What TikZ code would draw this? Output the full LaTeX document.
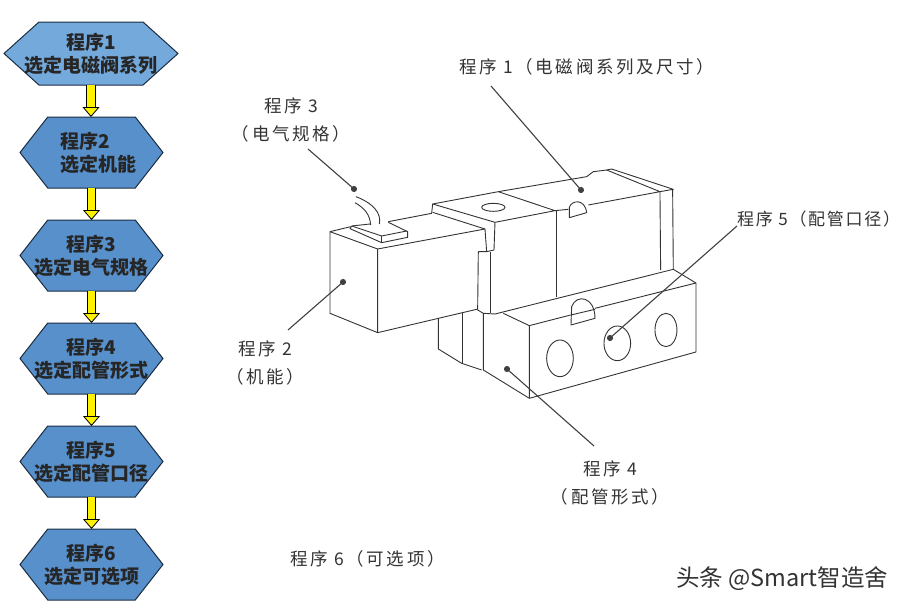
\documentclass[tikz,border=0pt]{standalone}
\usepackage{fontspec}
\setmainfont{Noto Sans CJK SC}
\newfontfamily\notefont[LetterSpace=15]{Noto Sans CJK SC}
\newfontfamily\notetight[LetterSpace=10]{Noto Sans CJK SC}
\usetikzlibrary{shapes.symbols, arrows.meta, positioning}
\definecolor{hexblue}{HTML}{5790CB}
\definecolor{hexlight}{HTML}{74A9DC}
\definecolor{hexline}{HTML}{1C2C40}
\tikzset{
  hexnode/.style = {signal, signal to=west and east, signal pointer angle=104, draw=hexline, line width=1pt, fill=hexblue, inner sep=0pt, outer sep=0pt, minimum width=143pt, minimum height=71pt},
  flowtext/.style = {align=center, inner sep=0pt, font=\fontsize{19}{23}\selectfont\bfseries, text=black!85},
  flowline/.style = {draw=black, line width=0.8pt, double=yellow, double distance=7.5pt, -{Triangle[fill=yellow, color=black, line width=0.8pt, length=10pt, width=17pt]}},
  note/.style = {align=center, inner sep=0pt, text=black!80, font=\fontsize{17.5}{28}\selectfont\notefont},
  leader/.style = {draw=black!75, line width=1.1pt, shorten >=-3pt, -{Circle[length=6pt]}},
  part/.style = {draw=black!80, line width=0.9pt, line join=round}
}
\begin{document}
\begin{tikzpicture}[x=1pt, y=-1pt, node distance=32pt]
\useasboundingbox (0,0) rectangle (907,608);

% Flow chain
\node[hexnode, signal pointer angle=84, fill=hexlight, minimum width=174pt, minimum height=63pt, label={[flowtext]center:程序1\\选定电磁阀系列}] (step1) at (91,53.5) {};
\node[hexnode, below=of step1, xshift=0.5pt, label={[flowtext, align=left, xshift=7pt]center:程序2\\选定机能}] (step2) {};
\node[hexnode, below=of step2, label={[flowtext]center:程序3\\选定电气规格}] (step3) {};
\node[hexnode, below=of step3, label={[flowtext]center:程序4\\选定配管形式}] (step4) {};
\node[hexnode, below=of step4, label={[flowtext]center:程序5\\选定配管口径}] (step5) {};
\node[hexnode, below=of step5, label={[flowtext]center:程序6\\选定可选项}] (step6) {};

\foreach \a/\b in {1/2,2/3,3/4,4/5,5/6}
  \draw[flowline] (step\a.south) -- (step\a.south |- step\b.north);

% Notes
\node[note, anchor=west] (note1) at (459,67) {程序 1（电磁阀系列及尺寸）};
\node[note] (note3) at (291,120) {程序 3\\（电气规格）};
\node[note] (note2) at (265,363) {程序 2\\（机能）};
\node[note] (note4) at (610,483) {程序 4\\（配管形式）};
\node[note, anchor=west, font=\fontsize{17}{28}\selectfont\notetight] (note5) at (737,219) {程序 5（配管口径）};
\node[note, anchor=west] (note6) at (290,559) {程序 6（可选项）};
\node[anchor=west, inner sep=0pt, text=black!80, font=\fontsize{23.5}{26}\selectfont] (mark) at (676,579) {头条 @Smart智造舍};

% Valve
\begin{scope}[shift={(310,150)}, x=0.3333pt, y=-0.3333pt]
  % solenoid box
  \draw[part] (60,245) -- (60,490) -- (203,548) -- (203,297) -- cycle;
  \draw[part] (203,297) -- (525,237);
  \draw[part] (203,548) -- (500,478);
  \draw[part] (60,245) -- (122,230);
  \draw[part] (235,215) -- (365,190) -- (368,162);
  % plug and cable
  \draw[part] (125,228) -- (120,236) -- (215,278) -- (293,262) -- (293,245) -- (235,217);
  \draw[part] (125,228) -- (215,258) -- (290,243);
  \draw[part] (215,258) -- (215,278);
  \draw[part] (125,228) -- (180,222);
  \draw[part] (138,140) .. controls (190,160) and (215,190) .. (208,222);
  \draw[part] (135,158) .. controls (165,175) and (180,195) .. (182,225);
  % middle block
  \draw[part] (368,162) -- (565,125) -- (735,182) -- (555,217) -- cycle;
  \draw[part] (368,187) -- (525,237) -- (530,305) -- (505,305) -- (503,478);
  \draw[part] (555,217) -- (552,300) -- (530,305);
  \draw[part] (540,305) -- (540,490);
  \draw[part] (740,182) -- (740,440);
  \draw[part] (550,172) ellipse [x radius=35, y radius=12];
  % upper body
  \draw[part] (565,125) -- (830,80) -- (850,65) -- (890,60) -- (1050,125) -- (835,165);
  \draw[part] (735,182) -- (775,178);
  \draw[part] (890,60) -- (905,57) -- (1090,118) -- (1050,125);
  \draw[part] (1050,125) -- (1052,360);
  \draw[part] (1088,118) -- (1090,358);
  \draw[part] (778,203) -- (778,172) .. controls (785,150) and (825,145) .. (830,188) -- cycle;
  % base
  \draw[part] (500,478) -- (520,490) -- (555,492) -- (1090,358) -- (1158,399) -- (1158,606) -- (658,745) -- (520,660) -- (520,490);
  \draw[part] (580,490) -- (658,527) -- (658,745);
  \draw[part] (658,527) -- (782,495);
  \draw[part] (855,475) -- (1158,399);
  \draw[part] (783,525) -- (785,470) .. controls (800,430) and (855,440) .. (855,505) -- cycle;
  \draw[part] (783,495) -- (855,478);
  \draw[part] (750,625) ellipse [x radius=40, y radius=55];
  \draw[part] (922,580) ellipse [x radius=40, y radius=52];
  \draw[part] (1068,540) ellipse [x radius=33, y radius=50];
  % sub block
  \draw[part] (385,505) -- (385,597) -- (455,640) -- (515,660);
  \draw[part] (458,488) -- (458,640);
\end{scope}

% Leaders
\coordinate (from1) at (491,86);
\coordinate (to1) at (581,190);
\coordinate (from2) at (288,330);
\coordinate (to2) at (343,282);
\coordinate (from3) at (308,149);
\coordinate (to3) at (354,189);
\coordinate (from4) at (594,446);
\coordinate (to4) at (507,369);
\coordinate (from5) at (737,226);
\coordinate (to5) at (610,338);
\foreach \i in {1,...,5}
  \draw[leader] (from\i) -- (to\i);

\end{tikzpicture}
\end{document}
